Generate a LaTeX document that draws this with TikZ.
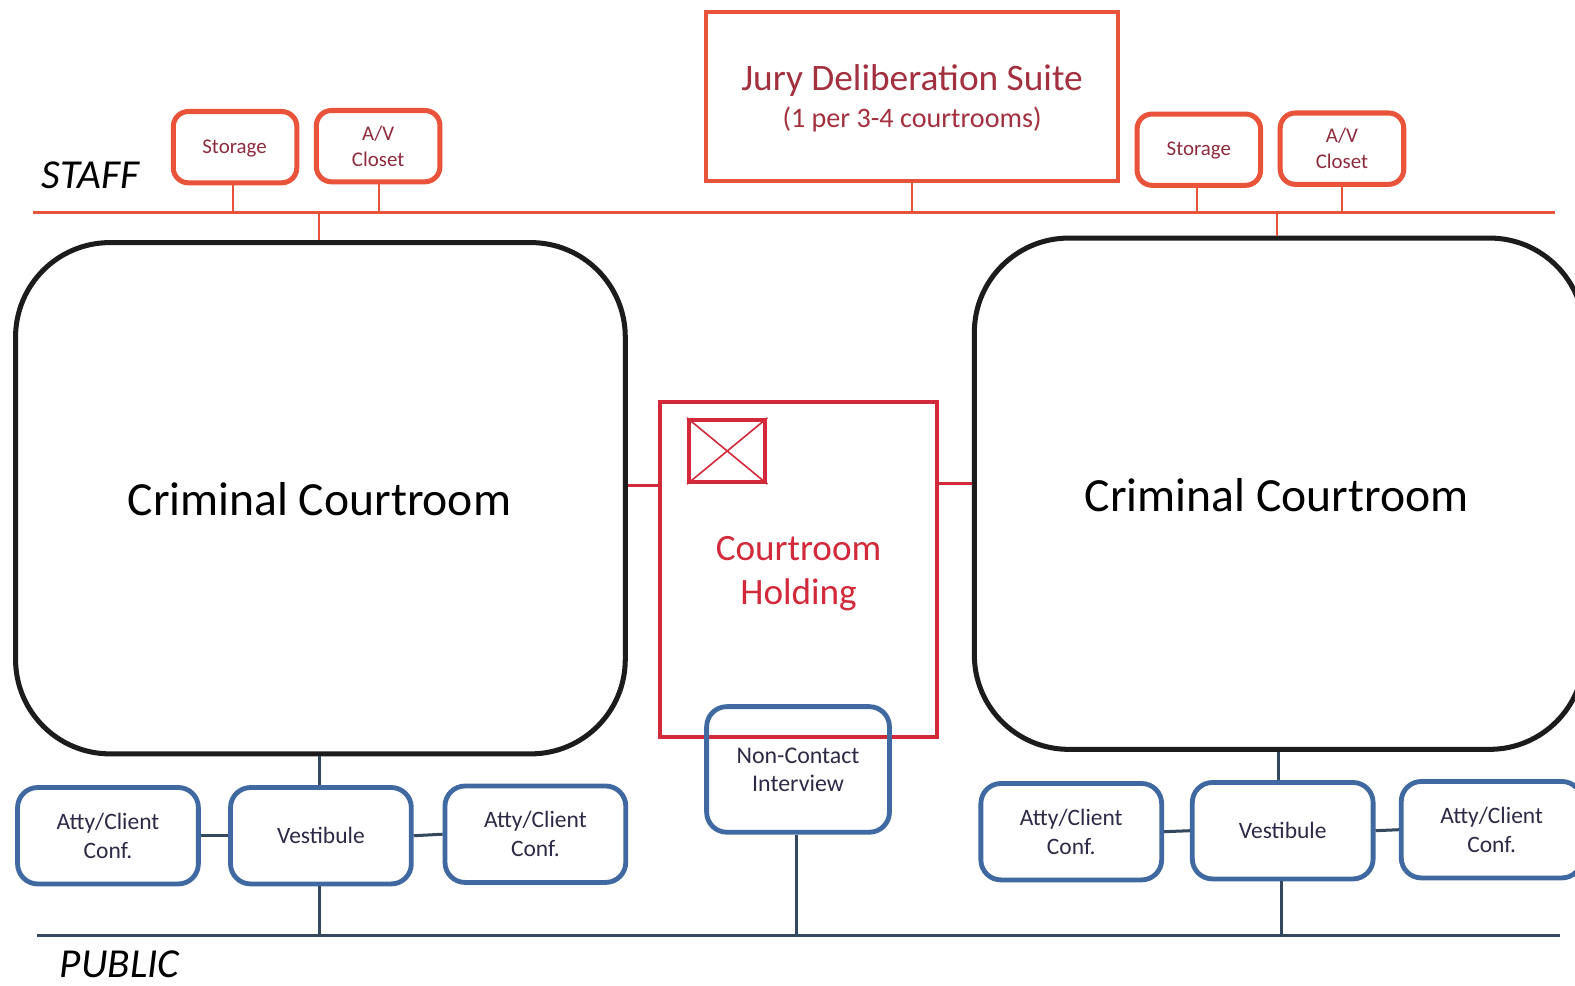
\documentclass[tikz,border=0pt]{standalone}
\usepackage{fontspec}
\setmainfont{Carlito}
\definecolor{staffred}{HTML}{E8533A}
\definecolor{stafftext}{HTML}{8E2C3E}
\definecolor{jurytext}{HTML}{A3303F}
\definecolor{holdred}{HTML}{D2293B}
\definecolor{bluebox}{HTML}{3F69A0}
\definecolor{bluetext}{HTML}{2C2A46}
\definecolor{slate}{HTML}{34495E}
\definecolor{courtblack}{HTML}{1C1C1C}
\begin{document}
\begin{tikzpicture}[x={(0.5pt,0pt)},y={(0pt,-0.5pt)},
  staffbox/.style={draw=staffred,line width=2.5pt,rounded corners=7.5pt,minimum width=61.5pt,minimum height=35.5pt,inner sep=0pt,text=stafftext,font=\fontsize{10.4}{13}\selectfont,align=center},
  jurybox/.style={draw=staffred,line width=2pt,minimum width=205pt,minimum height=84.5pt,inner sep=0pt},
  courtbox/.style={draw=courtblack,line width=2.5pt,rounded corners=47pt,minimum width=303.5pt,minimum height=254.5pt,inner sep=0pt},
  courttext/.style={font=\fontsize{23.7}{28}\selectfont,inner sep=0pt},
  holdbox/.style={draw=holdred,line width=2pt,minimum width=137.5pt,minimum height=166.5pt,inner sep=0pt},
  bluebx/.style={draw=bluebox,line width=2.4pt,rounded corners=10pt,minimum width=90pt,minimum height=48pt,inner sep=0pt,text=bluetext,font=\fontsize{11.7}{14.5}\selectfont,align=center},
  staffline/.style={draw=staffred,line width=1.5pt},
  staffconn/.style={draw=staffred,line width=1pt},
  pubconn/.style={draw=slate,line width=1.5pt},
  sidelabel/.style={font=\fontsize{20.5}{24}\selectfont\itshape,text=black,inner sep=0pt}
]
\useasboundingbox (0,0) rectangle (1568,981);
\fill[white] (0,0) rectangle (1568,981);

% staff line
\coordinate (SL1) at (33,212);
\coordinate (SL2) at (1548,212);
\draw[staffline] (SL1) -- (SL2);
\node[sidelabel] (staff) at (90,175) {STAFF};

% staff rooms
\node[staffbox] (stL) at (234,146.5) {};
\node[staffbox] (avL) at (376.5,145.5) {A/V\\Closet};
\node[staffbox] (stR) at (1193.5,149) {};
\node[staffbox] (avR) at (1336,148) {A/V\\Closet};
\node[text=stafftext,font=\fontsize{10.4}{13}\selectfont,inner sep=0pt] (stLt) at (233.5,148) {Storage};
\node[text=stafftext,font=\fontsize{10.4}{13}\selectfont,inner sep=0pt] (stRt) at (1193.5,150) {Storage};
\node[jurybox] (jury) at (908,96) {};
\node[text=jurytext,font=\fontsize{18.6}{22}\selectfont,inner sep=0pt] (juryt1) at (908,80) {Jury Deliberation Suite};
\node[text=jurytext,font=\fontsize{14}{17}\selectfont,inner sep=0pt] (juryt2) at (908,119) {(1 per 3-4 courtrooms)};

\draw[staffconn] (stL.south -| 232,0) -- (232,212);
\draw[staffconn] (avL.south -| 377,0) -- (377,212);
\draw[staffconn] (stR.south -| 1192,0) -- (1192,212);
\draw[staffconn] (avR.south -| 1336,0) -- (1336,212);
\draw[staffconn] (jury.south -| 908,0) -- (908,212);

% courtrooms
\node[courtbox] (CL) at (319,496) {};
\node[courtbox] (CR) at (1273.5,491.5) {};
\node[courttext] (CLt) at (318,497) {Criminal Courtroom};
\node[courttext] (CRt) at (1271,493) {Criminal Courtroom};
\draw[staffconn] (318,212) -- (CL.north -| 318,0);
\draw[staffconn] (1271,212) -- (CR.north -| 1271,0);

% holding
\node[holdbox] (H) at (795,567) {};
\node[text=holdred,font=\fontsize{18.5}{22}\selectfont,align=center,inner sep=0pt] (Htxt) at (795,571) {Courtroom\\Holding};
\node[draw=holdred,line width=2pt,minimum width=38pt,minimum height=31pt,inner sep=0pt] (X) at (724,449) {};
\draw[holdred,line width=0.8pt] (X.north west) -- (X.south east);
\draw[holdred,line width=0.8pt] (X.south west) -- (X.north east);
\draw[draw=holdred,line width=1.5pt] (H.west |- 0,483) -- (CL.east |- 0,483);
\draw[draw=holdred,line width=1.5pt] (H.east |- 0,481) -- (CR.west |- 0,481);

% non-contact
\node[bluebx,minimum width=91pt,minimum height=62.5pt,font=\fontsize{11.9}{14}\selectfont] (NC) at (794.5,766) {Non-Contact\\Interview};

% public line
\coordinate (PL1) at (37,931);
\coordinate (PL2) at (1553,931);
\draw[draw=slate,line width=1.6pt] (PL1) -- (PL2);
\node[sidelabel] (public) at (119,960) {PUBLIC};

% left public rooms
\node[bluebx] (A1) at (107.5,832) {Atty/Client\\Conf.};
\node[bluebx] (V1) at (319.5,832) {Vestibule};
\node[bluebx] (A2) at (533,830.5) {Atty/Client\\Conf.};
% right public rooms
\node[bluebx] (A3) at (1066.5,828) {Atty/Client\\Conf.};
\node[bluebx] (V2) at (1277,827) {Vestibule};
\node[bluebx] (A4) at (1485,826) {Atty/Client\\Conf.};

\draw[pubconn] (CL.south -| 318,0) -- (V1.north -| 318,0);
\draw[pubconn] (V1.south -| 318,0) -- (318,931);
\draw[pubconn] (A1.east) -- (V1.west);
\draw[pubconn] (V1.east) -- (A2.west);
\draw[pubconn] (CR.south -| 1273,0) -- (V2.north -| 1273,0);
\draw[pubconn] (V2.south -| 1276,0) -- (1276,931);
\draw[pubconn] (A3.east) -- (V2.west);
\draw[pubconn] (V2.east) -- (A4.west);
\draw[pubconn] (NC.south -| 793,0) -- (793,931);
\end{tikzpicture}
\end{document}
